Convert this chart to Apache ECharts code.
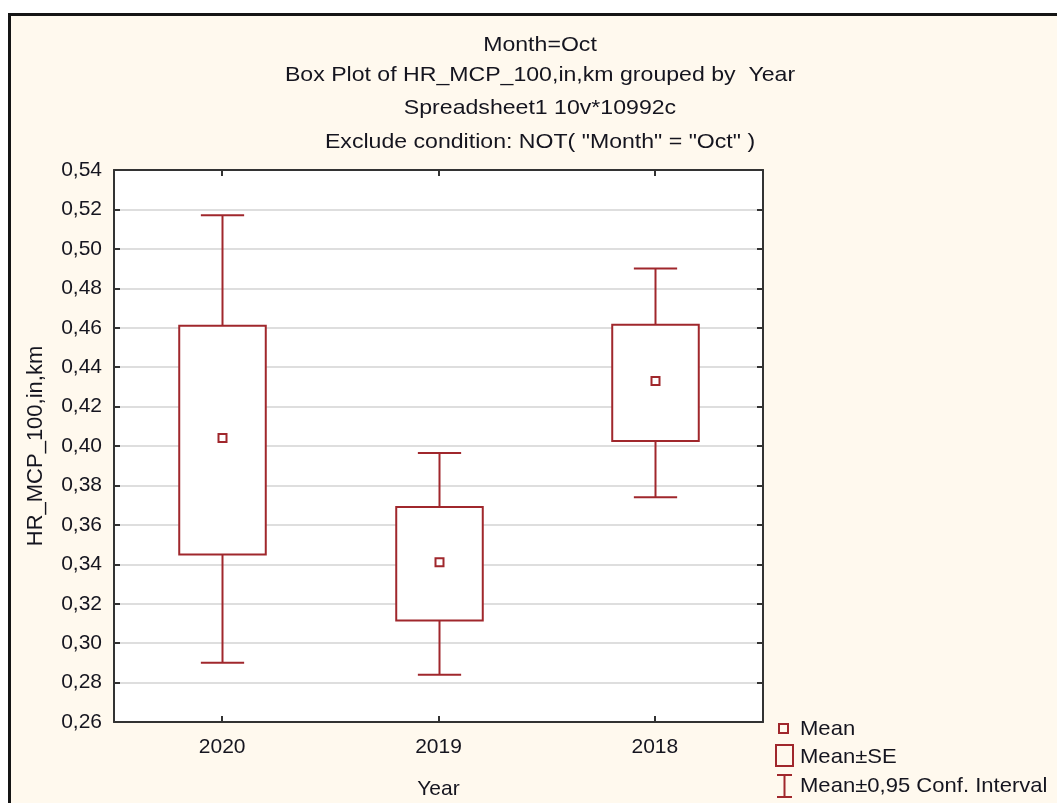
<!DOCTYPE html>
<html>
<head>
<meta charset="utf-8">
<script src="https://cdn.jsdelivr.net/npm/echarts@6/dist/echarts.min.js"></script>
<style>
  html, body { margin: 0; padding: 0; background: #ffffff; }
  #wrap { position: relative; width: 1057px; height: 803px; overflow: hidden; background: #ffffff; }
  #frame { position: absolute; left: 8px; top: 13px; width: 1100px; height: 850px;
           background: #FFF9EE; border-left: 3px solid #151515; border-top: 3px solid #151515; }
  #chart { position: absolute; left: 0; top: 0; width: 1057px; height: 803px; }
</style>
</head>
<body>
<div id="wrap">
  <div id="frame"></div>
  <div id="chart"></div>
</div>
<script>
// Groups and summary statistics of HR_MCP_100,in,km per year
const years = ['2020', '2019', '2018'];
const means = [0.404, 0.341, 0.433];
const seLow = [0.345, 0.3115, 0.4025];
const seHigh = [0.461, 0.369, 0.4615];
const ciLow = [0.290, 0.284, 0.374];
const ciHigh = [0.517, 0.3965, 0.490];

const titleLines = [
  'Month=Oct',
  'Box Plot of HR_MCP_100,in,km grouped by  Year',
  'Spreadsheet1 10v*10992c',
  'Exclude condition: NOT( "Month" = "Oct" )'
];
const legendNames = ['Mean', 'Mean\u00B1SE', 'Mean\u00B10,95 Conf. Interval'];

const RED = '#A0272C';
const TEXT = '#15151f';
const FONT = 'Arial, "Liberation Sans", sans-serif';

const rows = years.map((y, i) => [i, ciLow[i], seLow[i], means[i], seHigh[i], ciHigh[i]]);

function fmt(v) { return v.toFixed(2).replace('.', ','); }

const chart = echarts.init(document.getElementById('chart'), null, { renderer: 'canvas' });

// Title lines and legend drawn as text elements
const graphics = [];
const titleY = [45, 75, 108, 142];
titleLines.forEach((t, i) => {
  graphics.push({
    type: 'text', x: 540, y: titleY[i], scaleX: 1.1, originX: 0, originY: 0,
    style: { text: t, font: '21px ' + FONT, fill: TEXT, align: 'center', verticalAlign: 'middle' },
    z: 10
  });
});
// legend symbols
graphics.push({ type: 'rect', shape: { x: 779, y: 724, width: 9, height: 9 },
  style: { fill: 'none', stroke: RED, lineWidth: 2 }, z: 10 });
graphics.push({ type: 'rect', shape: { x: 776, y: 745, width: 17, height: 21 },
  style: { fill: 'none', stroke: RED, lineWidth: 2 }, z: 10 });
graphics.push({ type: 'polyline', shape: { points: [[777, 775], [792, 775]] },
  style: { stroke: RED, lineWidth: 2 }, z: 10 });
graphics.push({ type: 'polyline', shape: { points: [[784.5, 775], [784.5, 797]] },
  style: { stroke: RED, lineWidth: 2 }, z: 10 });
graphics.push({ type: 'polyline', shape: { points: [[777, 797], [792, 797]] },
  style: { stroke: RED, lineWidth: 2 }, z: 10 });
const legY = [729, 757, 786];
legendNames.forEach((t, i) => {
  graphics.push({
    type: 'text', x: 800, y: legY[i], scaleX: 1.05, originX: 0, originY: 0,
    style: { text: t, font: '21px ' + FONT, fill: TEXT, align: 'left', verticalAlign: 'middle' },
    z: 10
  });
});

const axisLineStyle = { color: '#333333', width: 2 };

chart.setOption({
  backgroundColor: 'transparent',
  animation: false,
  graphic: graphics,
  grid: { left: 114, top: 170, right: 294, bottom: 81, show: true,
          backgroundColor: '#ffffff', borderWidth: 0, outerBoundsMode: 'none' },
  xAxis: [{
    type: 'category', data: years, position: 'bottom',
    name: 'Year', nameLocation: 'middle', nameGap: 57,
    nameTextStyle: { fontSize: 21, fontFamily: FONT, color: TEXT },
    axisLine: { show: true, lineStyle: axisLineStyle },
    axisTick: { show: true, inside: true, alignWithLabel: true, length: 6, lineStyle: axisLineStyle },
    axisLabel: { fontSize: 21, fontFamily: FONT, color: TEXT, margin: 15 },
    splitLine: { show: false }
  }, {
    type: 'category', data: years, position: 'top',
    axisLine: { show: true, lineStyle: axisLineStyle },
    axisTick: { show: true, inside: true, alignWithLabel: true, length: 6, lineStyle: axisLineStyle },
    axisLabel: { show: false },
    splitLine: { show: false }
  }],
  yAxis: [{
    type: 'value', min: 0.26, max: 0.54, interval: 0.02, position: 'left',
    name: 'HR_MCP_100,in,km', nameLocation: 'middle', nameGap: 67, nameRotate: 90,
    nameTextStyle: { fontSize: 22, fontFamily: FONT, color: TEXT },
    axisLine: { show: true, lineStyle: axisLineStyle },
    axisTick: { show: true, inside: true, length: 6, lineStyle: axisLineStyle },
    axisLabel: { fontSize: 21, fontFamily: FONT, color: TEXT, margin: 12, formatter: fmt },
    splitLine: { show: true, lineStyle: { color: '#DEDEDE', width: 2 } }
  }, {
    type: 'value', min: 0.26, max: 0.54, interval: 0.02, position: 'right',
    axisLine: { show: true, lineStyle: axisLineStyle },
    axisTick: { show: true, inside: true, length: 6, lineStyle: axisLineStyle },
    axisLabel: { show: false },
    splitLine: { show: false }
  }],
  series: [{
    // confidence-interval whiskers with caps
    name: legendNames[2], type: 'custom', xAxisIndex: 0, yAxisIndex: 0, z: 3,
    data: rows,
    renderItem: function (params, api) {
      const x = api.value(0);
      const band = api.size([1, 0])[0];
      const cap = band * 0.1;
      const pLo = api.coord([x, api.value(1)]);
      const pSeLo = api.coord([x, api.value(2)]);
      const pSeHi = api.coord([x, api.value(4)]);
      const pHi = api.coord([x, api.value(5)]);
      const cx = Math.round(pLo[0]) + 0.5;
      const st = { stroke: RED, lineWidth: 2, fill: null };
      return { type: 'group', children: [
        { type: 'line', shape: { x1: cx, y1: pHi[1], x2: cx, y2: pSeHi[1] }, style: st },
        { type: 'line', shape: { x1: cx - cap, y1: pHi[1], x2: cx + cap, y2: pHi[1] }, style: st },
        { type: 'line', shape: { x1: cx, y1: pLo[1], x2: cx, y2: pSeLo[1] }, style: st },
        { type: 'line', shape: { x1: cx - cap, y1: pLo[1], x2: cx + cap, y2: pLo[1] }, style: st }
      ] };
    }
  }, {
    // mean ± SE boxes
    name: legendNames[1], type: 'custom', xAxisIndex: 0, yAxisIndex: 0, z: 4,
    data: rows,
    renderItem: function (params, api) {
      const x = api.value(0);
      const band = api.size([1, 0])[0];
      const w = band * 0.4;
      const pLo = api.coord([x, api.value(2)]);
      const pHi = api.coord([x, api.value(4)]);
      const cx = Math.round(pLo[0]) + 0.5;
      return { type: 'rect',
        shape: { x: cx - w / 2, y: pHi[1], width: w, height: pLo[1] - pHi[1] },
        style: { fill: '#ffffff', stroke: RED, lineWidth: 2 } };
    }
  }, {
    // means
    name: legendNames[0], type: 'custom', xAxisIndex: 0, yAxisIndex: 0, z: 5,
    data: rows,
    renderItem: function (params, api) {
      const p = api.coord([api.value(0), api.value(3)]);
      const cx = Math.round(p[0]) + 0.5;
      return { type: 'rect', shape: { x: cx - 4, y: p[1] - 4, width: 8, height: 8 },
        style: { fill: '#ffffff', stroke: RED, lineWidth: 2 } };
    }
  }]
});
</script>
</body>
</html>
